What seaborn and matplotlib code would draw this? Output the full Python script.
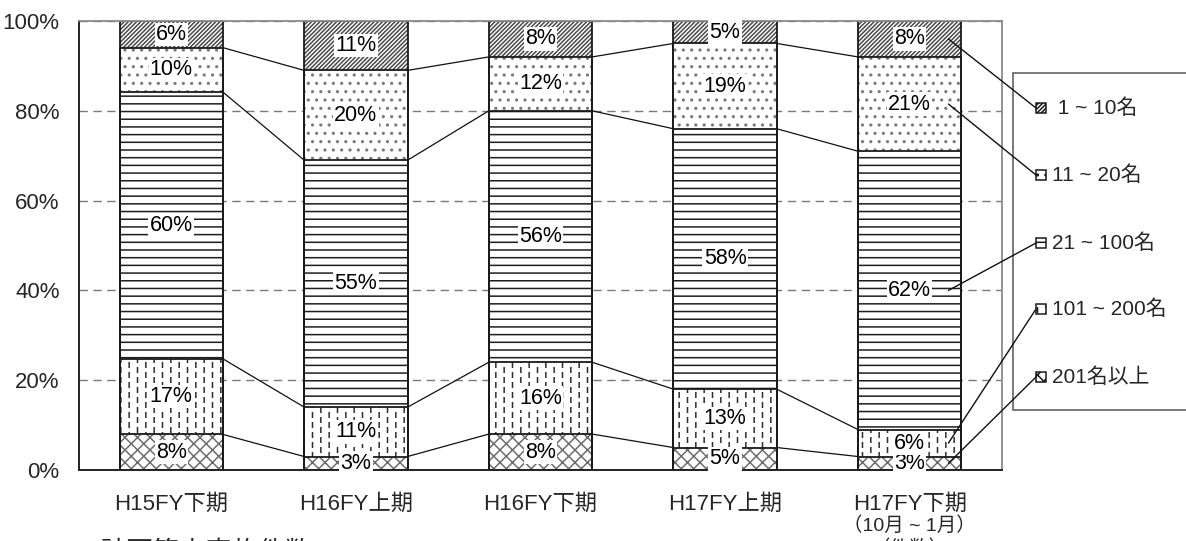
import numpy as np
import matplotlib
matplotlib.use("Agg")
import matplotlib.pyplot as plt
from matplotlib import hatch as mhatch
from matplotlib import font_manager
from matplotlib.path import Path
from matplotlib.patches import Rectangle, ConnectionPatch
import seaborn as sns

# ---------------------------------------------------------------- data
categories = ["H15FY下期", "H16FY上期", "H16FY下期", "H17FY上期", "H17FY下期"]

# size bands, listed bottom-to-top as stacked
band_names = ["201名以上", "101 ~ 200名", "21 ~ 100名", "11 ~ 20名", " 1 ~ 10名"]

share_201_plus = [8, 3, 8, 5, 3]
share_101_200 = [17, 11, 16, 13, 6]
share_21_100 = [60, 55, 56, 58, 62]
share_11_20 = [10, 20, 12, 19, 21]
share_1_10 = [6, 11, 8, 5, 8]

y_ticks = [0, 20, 40, 60, 80, 100]
y_tick_labels = ["0%", "20%", "40%", "60%", "80%", "100%"]

period_note = "（10月 ~ 1月）"
unit_note = "（件数）"
footer_title = "計画策定実施件数"

# ---------------------------------------------------------------- hatch patterns
HATCH_PITCH = {"/": 24, "x": 8, "-": 13, "|": (12, 10)}


class _Rules(mhatch.HatchPatternBase):
    """Horizontal rules for '-'."""
    def __init__(self, hatch, density):
        self.n = HATCH_PITCH["-"] if "-" in hatch else 0
        self.num_vertices = 2 * self.n

    def set_vertices_and_codes(self, vertices, codes):
        y = (np.arange(self.n) + 0.5) / self.n
        vertices[0::2, 0] = 0.0
        vertices[0::2, 1] = y
        vertices[1::2, 0] = 1.0
        vertices[1::2, 1] = y
        codes[0::2] = Path.MOVETO
        codes[1::2] = Path.LINETO


class _Diagonals(mhatch.HatchPatternBase):
    """Fine '/' stripes and an 'x' lattice."""
    def __init__(self, hatch, density):
        ne = HATCH_PITCH["/"] if "/" in hatch else (HATCH_PITCH["x"] if "x" in hatch else 0)
        se = HATCH_PITCH["x"] if "x" in hatch else 0
        segs = []
        if ne:
            for c in np.arange(-ne, ne + 1) / ne:
                segs.append((0.0, c, 1.0, 1.0 + c))
        if se:
            for c in np.arange(0, 2 * se + 1) / se:
                segs.append((0.0, c, 1.0, c - 1.0))
        self.segs = np.array(segs).reshape(-1, 4)
        self.num_vertices = 2 * len(segs)

    def set_vertices_and_codes(self, vertices, codes):
        vertices[0::2] = self.segs[:, :2]
        vertices[1::2] = self.segs[:, 2:]
        codes[0::2] = Path.MOVETO
        codes[1::2] = Path.LINETO


class _DashedColumns(mhatch.HatchPatternBase):
    """Staggered short vertical dashes for '|'."""
    def __init__(self, hatch, density):
        segs = []
        if "|" in hatch:
            cols, rows = HATCH_PITCH["|"]
            half = 0.45 / rows / 2
            for c in range(cols):
                x = (c + 0.5) / cols
                shift = 0.5 if c % 2 else 0.0
                for r in range(rows + 1):
                    yc = (r + shift) / rows
                    segs.append((x, yc - half, x, yc + half))
        self.segs = np.array(segs).reshape(-1, 4)
        self.num_vertices = 2 * len(segs)

    def set_vertices_and_codes(self, vertices, codes):
        vertices[0::2] = self.segs[:, :2]
        vertices[1::2] = self.segs[:, 2:]
        codes[0::2] = Path.MOVETO
        codes[1::2] = Path.LINETO


mhatch._hatch_types[:] = [_Rules, _Diagonals, _DashedColumns, mhatch.SmallFilledCircles]

# per band (bottom-to-top): hatch string and hatch colour
band_hatch = ["x", "|", "-", "..", "/"]
band_hatch_color = ["#6e6e6e", "#2e2e2e", "#1e1e1e", "#7a7a7a", "#4a4a4a"]

# ---------------------------------------------------------------- style
sns.set_style("white")
names = {f.name for f in font_manager.fontManager.ttflist}
latin = "Liberation Sans Narrow" if "Liberation Sans Narrow" in names else "Liberation Sans"
plt.rcParams["font.family"] = [latin, "Noto Sans CJK JP", "DejaVu Sans"]
plt.rcParams["hatch.linewidth"] = 1.1
plt.rcParams["axes.unicode_minus"] = False

W, H = 1186, 541
fig = plt.figure(figsize=(W / 100, H / 100), dpi=100)
fig.patch.set_facecolor("white")
ax = fig.add_axes([79 / W, 71 / H, 923 / W, 449 / H])
ax.set_facecolor("white")

BAR_WIDTH = 0.56

bands = np.array([share_201_plus, share_101_200, share_21_100, share_11_20, share_1_10], dtype=float)
totals = bands.sum(axis=0)
pct = bands / totals * 100
tops = np.cumsum(pct, axis=0)
bottoms = tops - pct

# hatched layers, painted from the tallest stack downwards
for k in range(len(band_names) - 1, -1, -1):
    sns.barplot(x=categories, y=tops[k], color="white", saturation=1, width=BAR_WIDTH,
                errorbar=None, ax=ax, zorder=2)
    for p in ax.containers[-1]:
        p.set_hatch(band_hatch[k])
        p.set_edgecolor(band_hatch_color[k])
        p.set_linewidth(0)

# black outlines of every stack level
for k in range(len(band_names)):
    sns.barplot(x=categories, y=tops[k], color="white", saturation=1, width=BAR_WIDTH,
                errorbar=None, ax=ax, zorder=3)
    for p in ax.containers[-1]:
        p.set_facecolor("none")
        p.set_edgecolor("#1a1a1a")
        p.set_linewidth(1.3)

# series lines joining the stack boundaries of neighbouring bars
xs = np.arange(len(categories))
for k in range(len(band_names) - 1):
    for i in range(len(categories) - 1):
        ax.plot([xs[i] + BAR_WIDTH / 2, xs[i + 1] - BAR_WIDTH / 2],
                [tops[k][i], tops[k][i + 1]], color="#111111", lw=0.9, zorder=2)

# value labels
for k in range(len(band_names)):
    for i in range(len(categories)):
        ax.text(xs[i], bottoms[k][i] + pct[k][i] / 2, f"{int(bands[k][i])}%",
                ha="center", va="center", fontsize=15.5, color="black", zorder=6 + k,
                clip_on=False,
                bbox=dict(boxstyle="square,pad=0.06", fc="white", ec="none"))

# axes cosmetics
ax.set_xlim(-0.5, len(categories) - 0.5)
ax.set_ylim(0, 100)
ax.set_yticks(y_ticks)
ax.set_yticklabels(y_tick_labels, fontsize=16)
ax.set_xticks(xs)
ax.set_xticklabels(categories, fontsize=16)
ax.set_xlabel("")
ax.set_ylabel("")
ax.tick_params(axis="y", length=0, pad=14)
ax.tick_params(axis="x", which="major", length=0, pad=17)
ax.set_xticks(xs[:-1] + 0.5, minor=True)
ax.tick_params(axis="x", which="minor", direction="in", length=5, width=1, color="#333333")
ax.set_axisbelow(True)
ax.yaxis.grid(True, linestyle=(0, (6, 4)), color="#7a7a7a", lw=1)
ax.xaxis.grid(False)
for side in ("left", "bottom"):
    ax.spines[side].set_color("#222222")
    ax.spines[side].set_linewidth(1.4)
for side in ("top", "right"):
    ax.spines[side].set_color("#8a8a8a")
    ax.spines[side].set_linewidth(1.3)
for s in ax.spines.values():
    s.set_zorder(4)

# second line under the last period label, and the cut footer texts
ax.annotate(period_note, xy=(xs[-1], 15 / H), xycoords=("data", "figure fraction"),
            ha="center", va="center", fontsize=14)
ax.annotate(unit_note, xy=(xs[-1], 2 / H), xycoords=("data", "figure fraction"),
            ha="center", va="top", fontsize=14)
fig.text(100 / W, 1 / H, footer_title, ha="left", va="top", fontsize=19)

# legend panel drawn at the right, with callout lines to the last bar
fig.add_artist(Rectangle((1013 / W, 1 - 410 / H), 180 / W, 337 / H, transform=fig.transFigure,
                         facecolor="white", edgecolor="#555555", lw=1.1, zorder=1))
legend_rows_y = [377, 309, 243, 175, 108]  # pixel rows, bottom band first
for k in range(len(band_names)):
    yc = legend_rows_y[k]
    fig.add_artist(Rectangle((1036 / W, 1 - (yc + 5) / H), 10 / W, 10 / H,
                             transform=fig.transFigure, facecolor="white",
                             hatch=band_hatch[k], edgecolor="#1a1a1a", lw=1.1, zorder=3))
    fig.text(1052 / W, 1 - yc / H, band_names[k], ha="left", va="center", fontsize=15, zorder=3)
    con = ConnectionPatch(xyA=(xs[-1] + 0.75 * BAR_WIDTH / 2, bottoms[k][-1] + pct[k][-1] / 2),
                          coordsA=ax.transData,
                          xyB=(1036 / W, 1 - yc / H), coordsB=fig.transFigure,
                          color="#111111", lw=1.0, zorder=8)
    fig.add_artist(con)

fig.savefig("out.png", dpi=100, facecolor="white")
